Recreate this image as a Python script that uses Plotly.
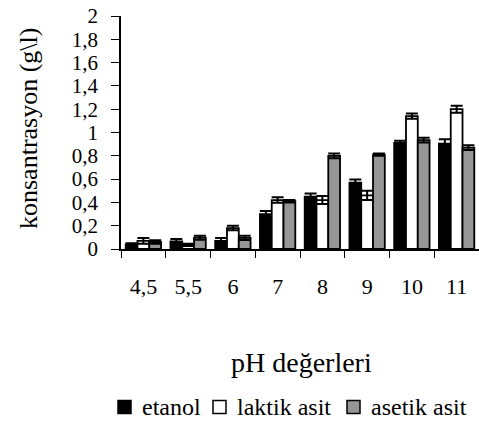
import plotly.graph_objects as go

# pH values and measured concentrations (g/l) with their error margins
ph_labels = ["4,5", "5,5", "6", "7", "8", "9", "10", "11"]

etanol = [0.04, 0.065, 0.07, 0.30, 0.45, 0.57, 0.91, 0.905]
etanol_err = [0.01, 0.02, 0.025, 0.027, 0.026, 0.027, 0.02, 0.036]

laktik = [0.07, 0.035, 0.18, 0.42, 0.42, 0.46, 1.14, 1.20]
laktik_err = [0.025, 0.01, 0.02, 0.024, 0.034, 0.04, 0.023, 0.03]

asetik = [0.06, 0.097, 0.096, 0.41, 0.80, 0.81, 0.935, 0.87]
asetik_err = [0.015, 0.017, 0.018, 0.01, 0.02, 0.01, 0.02, 0.02]

y_ticks = [0, 0.2, 0.4, 0.6, 0.8, 1, 1.2, 1.4, 1.6, 1.8, 2]

FONT = "Liberation Serif, Times New Roman, serif"

series = [
    ("etanol", etanol, etanol_err, "#000000"),
    ("laktik asit", laktik, laktik_err, "#ffffff"),
    ("asetik asit", asetik, asetik_err, "#969696"),
]

W, H = 479, 429
ML, MR, MT, MB = 121, 0, 16, 180
PW, PH = W - ML - MR, H - MT - MB


def px_x(x):
    """Pixel column -> paper x."""
    return (x - ML) / PW


def px_y(y):
    """Pixel row -> paper y."""
    return (H - MB - y) / PH


fig = go.Figure()
for name, vals, errs, color in series:
    fig.add_trace(go.Bar(
        name=name, x=ph_labels, y=vals,
        marker=dict(color=color, line=dict(color="#000000", width=1.8)),
        error_y=dict(type="data", array=errs, visible=True,
                     color="#000000", thickness=2, width=6),
        showlegend=False,
    ))

# Key row below the chart: a small swatch followed by the series name
key_swatch_x = [118, 213, 347]
key_y = 407
shapes = []
annotations = []
for (name, _, _, color), sx in zip(series, key_swatch_x):
    shapes.append(dict(
        type="rect", xref="paper", yref="paper",
        x0=px_x(sx), x1=px_x(sx + 13), y0=px_y(key_y + 6.5), y1=px_y(key_y - 6.5),
        fillcolor=color, line=dict(color="#000000", width=1.5),
    ))
    annotations.append(dict(
        text=name, xref="paper", yref="paper",
        x=px_x(sx + 22), y=px_y(key_y), xanchor="left", yanchor="middle",
        showarrow=False, font=dict(family=FONT, size=24, color="#000000"),
    ))

annotations += [
    dict(text="konsantrasyon (g\\l)", xref="paper", yref="paper",
         x=px_x(28), y=px_y(129), xanchor="center", yanchor="middle",
         textangle=-90, showarrow=False,
         font=dict(family=FONT, size=26, color="#000000")),
    dict(text="pH değerleri", xref="paper", yref="paper",
         x=px_x(301), y=px_y(362), xanchor="center", yanchor="middle",
         showarrow=False,
         font=dict(family=FONT, size=28, color="#000000")),
]

fig.update_layout(
    width=W, height=H,
    margin=dict(l=ML, r=MR, t=MT, b=MB),
    paper_bgcolor="white", plot_bgcolor="white",
    barmode="group", bargap=0.21, bargroupgap=0,
    separators=",.",
    font=dict(family=FONT, color="#000000", size=22),
    showlegend=False,
    xaxis=dict(
        type="category", showline=True, linecolor="#000000", linewidth=1.5,
        ticks="outside", tickson="boundaries", ticklen=7, tickcolor="#000000",
        tickwidth=1.2, showgrid=False, zeroline=False,
        tickfont=dict(family=FONT, size=22, color="#000000"), ticklabelstandoff=17,
    ),
    yaxis=dict(
        range=[0, 2], tickvals=y_ticks, showline=True, linecolor="#000000",
        linewidth=1.5, ticks="outside", ticklen=8, tickcolor="#000000",
        tickwidth=1.2, showgrid=False, zeroline=False,
        tickfont=dict(family=FONT, size=21, color="#000000"), ticklabelstandoff=9,
    ),
    shapes=shapes,
    annotations=annotations,
)

fig.write_html("out.html")
